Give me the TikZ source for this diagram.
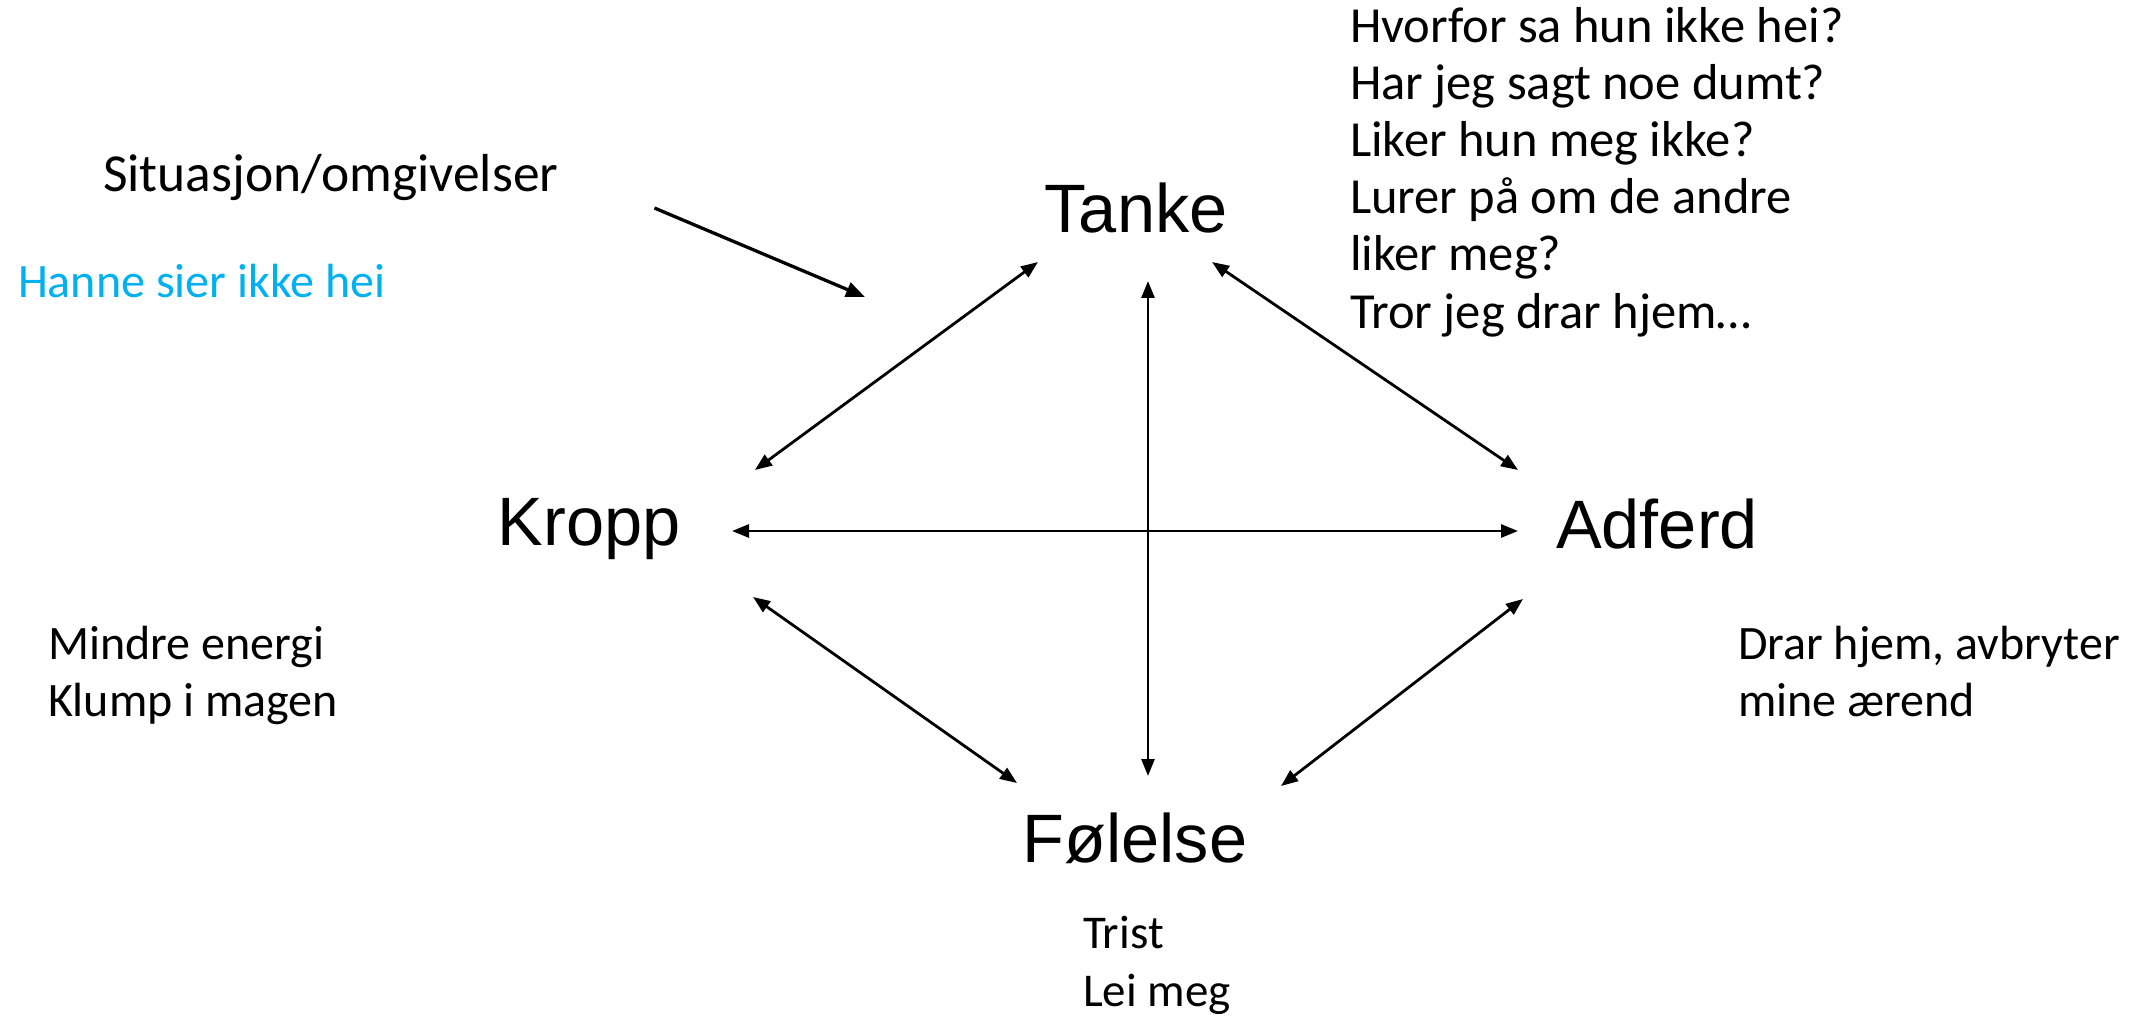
\documentclass[tikz,border=0pt]{standalone}
\usepackage{fontspec}
\setmainfont{Carlito}
\newfontfamily\arialfont{Liberation Sans}
\usetikzlibrary{arrows.meta,calc}
\definecolor{hanneblue}{RGB}{0,176,240}
\begin{document}
\begin{tikzpicture}[x=1pt,y=-1pt,
  every node/.style={inner sep=0pt, outer sep=0pt},
  core/.style={font=\arialfont\fontsize{68.5}{80}\selectfont, anchor=base},
  note/.style={font=\fontsize{48}{57}\selectfont, anchor=base west},
  thought/.style={note, font=\fontsize{50.5}{57}\selectfont},
  feeling/.style={note, font=\fontsize{47}{57}\selectfont},
  link/.style={line width=2.8pt, {Triangle[length=17pt,width=13pt]}-{Triangle[length=17pt,width=13pt]}},
  pointer/.style={line width=3.3pt, -{Triangle[length=19pt,width=15pt]}}
]
\useasboundingbox[fill=white] (0,0) rectangle (2136,1016);

% core nodes
\node[core] (tanke) at (1136,233) {Tanke};
\node[core] (kropp) at (589,545) {Kropp};
\node[core] (adferd) at (1657,548) {Adferd};
\node[core] (folelse) at (1135,862) {Følelse};

% situation
\node[note, font=\fontsize{53.5}{64}\selectfont] (sit) at (103,192) {Situasjon/omgivelser};
\node[note, text=hanneblue] (hanne) at (18,298) {Hanne sier ikke hei};
\coordinate (sittip) at (865,297);
\draw[pointer] ($(sit.base east)+(96,16)$) -- (sittip);

% thoughts
\node[thought] (t1) at (1350,43) {Hvorfor sa hun ikke hei?};
\node[thought] (t2) at (1350,100) {Har jeg sagt noe dumt?};
\node[thought] (t3) at (1350,157) {Liker hun meg ikke?};
\node[thought] (t4) at (1350,214) {Lurer på om de andre};
\node[thought] (t5) at (1350,271) {liker meg?};
\node[thought] (t6) at (1350,328) {Tror jeg drar hjem…};

% body
\node[note] (k1) at (48,659) {Mindre energi};
\node[note] (k2) at (48,716) {Klump i magen};

% behaviour
\node[note] (a1) at (1738,659) {Drar hjem, avbryter};
\node[note] (a2) at (1738,716) {mine ærend};

% feeling
\node[feeling] (f1) at (1083,948) {Trist};
\node[feeling] (f2) at (1083,1006) {Lei meg};

% connectors
\draw[link] ($(kropp.base)+(166,-75)$) -- ($(tanke.base)+(-98,29)$);
\draw[link] ($(tanke.base)+(76,29)$) -- ($(adferd.base)+(-139,-78)$);
\draw[link] ($(kropp.base)+(164,52)$) -- ($(folelse.base)+(-118,-79)$);
\draw[link] ($(adferd.base)+(-134,51)$) -- ($(folelse.base)+(146,-76)$);
\draw[link] ($(tanke.base)+(12,48)$) -- ($(folelse.base)+(13,-86)$);
\draw[link] ($(kropp.base)+(143,-14)$) -- ($(adferd.base)+(-139,-17)$);
\end{tikzpicture}
\end{document}
